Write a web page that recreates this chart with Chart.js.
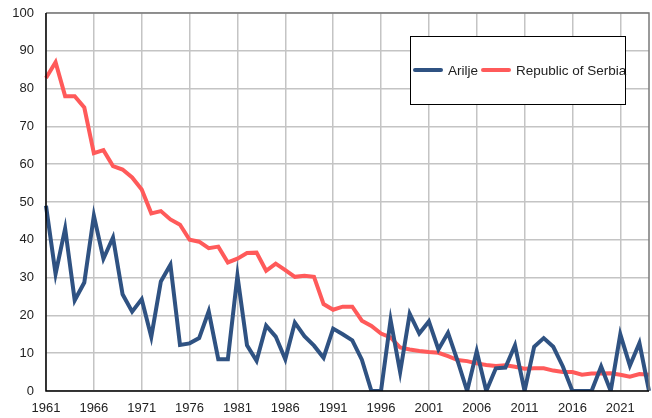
<!DOCTYPE html>
<html><head><meta charset="utf-8">
<script src="https://cdn.jsdelivr.net/npm/chart.js@4/dist/chart.umd.min.js"></script>
<style>html,body{margin:0;padding:0;background:#fff}#wrap{width:652px;height:418px;position:relative}</style>
</head><body><div id="wrap"><canvas id="c" width="652" height="418"></canvas></div>
<script>
const years = [];
for (let y = 1961; y <= 2024; y++) years.push(String(y));
const arilje = [49,31,43,24,28.7,46.4,35,40.6,25.6,21,24.3,14.3,29,33.4,12.2,12.6,14,21.1,8.4,8.4,30.5,12.1,8,17.3,14.4,8.4,18.1,14.5,12,8.8,16.5,15,13.4,8.3,0,0,18.8,5,20.4,15.2,18.4,11,15.4,8,0,10.5,0,6,6.2,12.1,0,11.7,14,11.7,6.5,0,0,0,6.5,0,15,6.7,12.7,0];
const serbia = [82.8,87,78,78,75,62.9,63.7,59.5,58.6,56.5,53.3,47,47.6,45.4,44,40,39.5,37.8,38.2,34,35,36.5,36.6,31.8,33.7,32,30.2,30.5,30.2,23,21.5,22.3,22.3,18.6,17.2,15.2,14.2,11.5,11,10.6,10.3,10.1,9.2,8.2,7.9,7.3,6.9,6.6,6.8,6.4,5.9,6,6,5.4,5,5,4.3,4.6,4.6,4.7,4.3,3.8,4.5,4.3];
const yTicks = [0,10,20,30,40,50,60,70,80,90,100];
const names = ['Arilje','Republic of Serbia'];
const colors = ['#2F5282','#FF5A5A'];

const legendPlugin = {
  id: 'boxLegend',
  afterDraw(chart) {
    const ctx = chart.ctx, a = chart.chartArea;
    ctx.save();
    ctx.strokeStyle = '#7a7a7a'; ctx.lineWidth = 1.5;
    ctx.beginPath(); ctx.moveTo(a.left, a.top); ctx.lineTo(a.right, a.top); ctx.lineTo(a.right, a.bottom); ctx.stroke();
    ctx.strokeStyle = '#000'; ctx.lineWidth = 1.5;
    ctx.beginPath(); ctx.moveTo(a.left, a.top); ctx.lineTo(a.left, a.bottom); ctx.lineTo(a.right, a.bottom); ctx.stroke();
    const bx = 410, by = 36, bw = 215, bh = 68;
    ctx.fillStyle = '#fff'; ctx.fillRect(bx, by, bw, bh);
    ctx.strokeStyle = '#000'; ctx.lineWidth = 1;
    ctx.strokeRect(bx + 0.5, by + 0.5, bw, bh);
    ctx.font = '13.5px "Liberation Sans", Arial, sans-serif';
    ctx.textBaseline = 'middle';
    let x = 413; const yc = 70;
    chart.data.datasets.forEach((ds) => {
      ctx.strokeStyle = ds.borderColor; ctx.lineWidth = 4; ctx.lineCap = 'round';
      ctx.beginPath(); ctx.moveTo(x + 2, yc); ctx.lineTo(x + 28, yc); ctx.stroke();
      ctx.fillStyle = '#222';
      ctx.fillText(ds.label, x + 35, yc + 1);
      x += 35 + ctx.measureText(ds.label).width + 3;
    });
    ctx.restore();
  }
};

new Chart(document.getElementById('c'), {
  type: 'line',
  data: {
    labels: years,
    datasets: [
      { label: names[0], data: arilje, borderColor: colors[0], backgroundColor: colors[0], borderWidth: 4, pointRadius: 0, tension: 0, borderJoinStyle: 'miter' },
      { label: names[1], data: serbia, borderColor: colors[1], backgroundColor: colors[1], borderWidth: 4, pointRadius: 0, tension: 0 }
    ]
  },
  options: {
    responsive: false, animation: false, devicePixelRatio: 1,
    layout: { padding: { top: 13, right: 3, left: 0, bottom: 0 } },
    plugins: { legend: { display: false }, tooltip: { enabled: false } },
    scales: {
      x: {
        offset: false,
        border: { display: false },
        grid: { color: (c) => (c.index % 5 === 0 ? '#c4c4c4' : 'rgba(0,0,0,0)'), lineWidth: 1.5, drawTicks: false },
        ticks: { autoSkip: false, maxRotation: 0, padding: 10, color: '#222', font: { size: 13, family: '"Liberation Sans", Arial, sans-serif' },
          callback: function (v, i) { return i % 5 === 0 ? this.getLabelForValue(v) : ''; } },
        afterFit: (s) => { s.height = 27; s.paddingLeft = 0; s.paddingRight = 0; s.paddingTop = 0; s.paddingBottom = 0; }
      },
      y: {
        min: 0, max: 100,
        border: { display: false },
        afterBuildTicks: (s) => { s.ticks = yTicks.map(v => ({ value: v })); },
        grid: { color: '#c4c4c4', lineWidth: 1.5, drawTicks: false },
        ticks: { padding: 12, color: '#222', font: { size: 13, family: '"Liberation Sans", Arial, sans-serif' } },
        afterFit: (s) => { s.width = 46; s.paddingTop = 0; s.paddingBottom = 0; s.paddingLeft = 0; s.paddingRight = 0; }
      }
    }
  },
  plugins: [legendPlugin]
});
</script></body></html>
